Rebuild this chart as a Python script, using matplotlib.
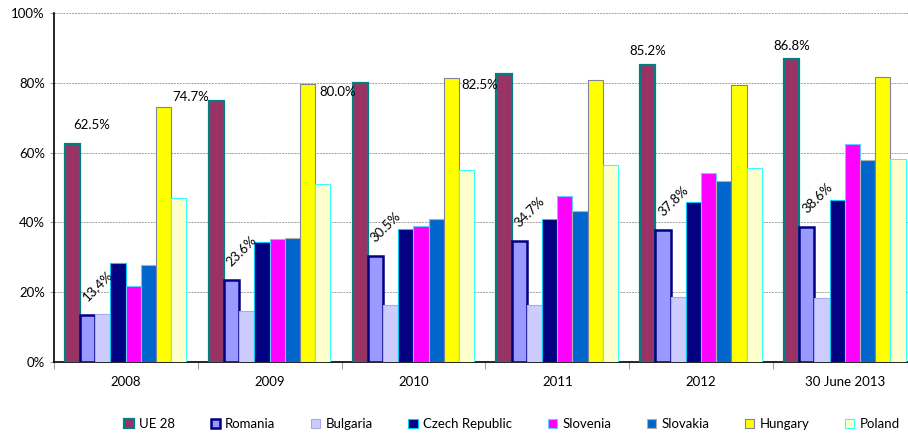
import numpy as np
import matplotlib.pyplot as plt

plt.rcParams['font.family'] = ['Lato', 'DejaVu Sans']

years = ['2008', '2009', '2010', '2011', '2012', '30 June 2013']
countries = ['UE 28', 'Romania', 'Bulgaria', 'Czech Republic', 'Slovenia',
             'Slovakia', 'Hungary', 'Poland']

ue28 = [62.5, 74.7, 80.0, 82.5, 85.2, 86.8]
romania = [13.4, 23.6, 30.5, 34.7, 37.8, 38.6]
bulgaria = [13.7, 14.6, 16.4, 16.4, 18.5, 18.3]
czech = [28.5, 34.4, 38.1, 41.1, 45.8, 46.5]
slovenia = [21.9, 35.2, 38.9, 47.7, 54.2, 62.6]
slovakia = [27.8, 35.5, 41.0, 43.4, 51.9, 57.9]
hungary = [73.0, 79.7, 81.4, 80.7, 79.3, 81.6]
poland = [47.0, 50.9, 54.9, 56.4, 55.6, 58.3]

series = [ue28, romania, bulgaria, czech, slovenia, slovakia, hungary, poland]

# fill / contour / width de contour
fills = ['#993366', '#9999FF', '#CCCCFF', '#000080', '#FF00FF', '#0066CC', '#FFFF00', '#FFFFCC']
edges = ['#008080', '#000080', '#A8A8F0', '#00CCFF', '#66CCFF', '#B0B0B0', '#8080A0', '#33FFFF']
lws = [1.6, 1.8, 0.8, 0.8, 0.8, 0.8, 0.8, 0.8]

# position des etiquettes UE 28 (decalage x, decalage y)
ue_dx = [0.132, -0.18, -0.153, -0.167, 0.0, 0.0]
ue_dy = [5.5, 1.3, -2.6, -3.0, 3.8, 3.8]

fig = plt.figure(figsize=(9.08, 4.34), dpi=100)
ax = fig.add_axes([54/908, 72/434, 863/908, 349/434])

x = np.arange(len(years))
w = 0.1056
start = 0.076

for i, vals in enumerate(series):
    ax.bar(x + start + i*w, vals, width=w, align='edge', color=fills[i],
           edgecolor=edges[i], linewidth=lws[i], label=countries[i], zorder=3)

for j in range(len(years)):
    cx = x[j] + start + 0.5*w
    ax.text(cx + ue_dx[j], ue28[j] + ue_dy[j], f'{ue28[j]:.1f}%', ha='center',
            va='center', fontsize=9.5, zorder=4)
    rx = x[j] + start + 1.5*w
    ax.text(rx + 0.01, romania[j] + 3.3, f'{romania[j]:.1f}%', rotation=45,
            rotation_mode='anchor', ha='left', va='bottom', fontsize=9.5, zorder=4)

ax.set_xlim(0, 6)
ax.set_ylim(0, 100)
ax.set_yticks(np.arange(0, 101, 20))
ax.set_yticklabels([f'{v}%' for v in range(0, 101, 20)], fontsize=9.5)
ax.yaxis.grid(True, color='#A0A0A0', linestyle=(0, (2, 1)), linewidth=0.7, zorder=0)
ax.set_axisbelow(True)

ax.set_xticks(np.arange(0, 7))
ax.set_xticklabels([])
ax.tick_params(axis='x', which='major', length=5, color='#A0A0A0')
ax.set_xticks(x + 0.5, minor=True)
ax.set_xticklabels(years, minor=True, fontsize=9.5)
ax.tick_params(axis='x', which='minor', length=0, pad=10)
ax.tick_params(axis='y', length=3, color='#A0A0A0')

for s in ['top', 'right']:
    ax.spines[s].set_visible(False)
ax.spines['left'].set_linewidth(1.2)
ax.spines['bottom'].set_linewidth(1.2)

fig.legend(loc='center', bbox_to_anchor=(512/908, 1 - 424/434), ncol=8,
           frameon=False, fontsize=9.5, handlelength=0.7, handleheight=0.7,
           handletextpad=0.4, columnspacing=2.7)

plt.savefig('out.png', dpi=100)
